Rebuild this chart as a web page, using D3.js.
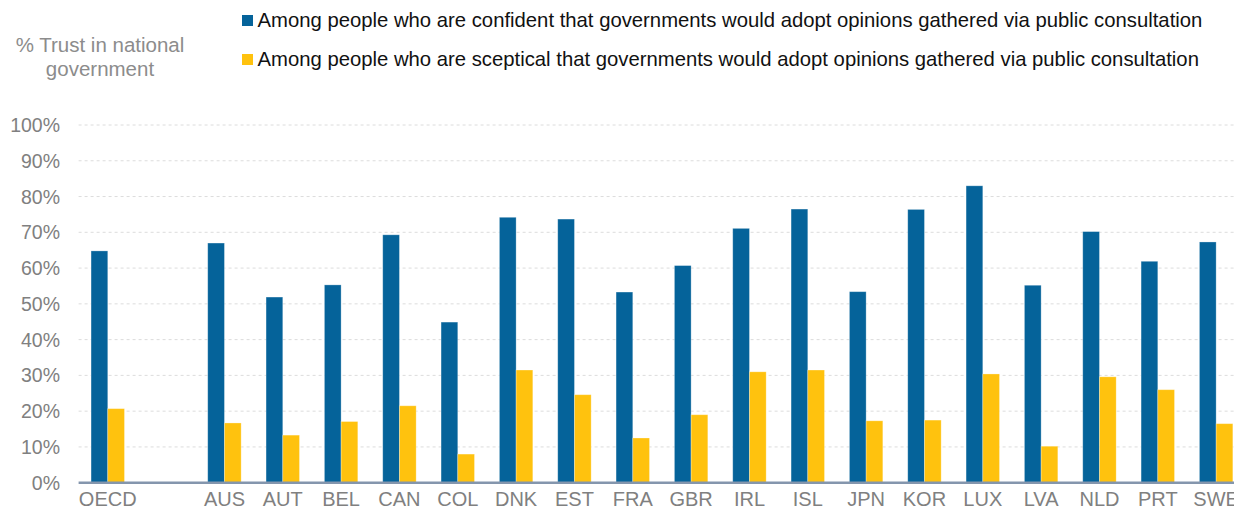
<!DOCTYPE html>
<html>
<head>
<meta charset="utf-8">
<script src="https://cdn.jsdelivr.net/npm/d3@7"></script>
<style>
  body { margin: 0; background: #fff; }
  svg { display: block; font-family: "Liberation Sans", Arial, sans-serif; }
</style>
</head>
<body>
<div id="chart"></div>
<script>
// categories (empty slot between OECD and the countries)
const categories = ["OECD", "", "AUS", "AUT", "BEL", "CAN", "COL", "DNK", "EST", "FRA", "GBR",
    "IRL", "ISL", "JPN", "KOR", "LUX", "LVA", "NLD", "PRT", "SWE"];

const seriesNames = [
    "Among people who are confident that governments would adopt opinions gathered via public consultation",
    "Among people who are sceptical that governments would adopt opinions gathered via public consultation"
];

const confident = [64.8, null, 67.0, 51.9, 55.3, 69.3, 44.9, 74.2, 73.7, 53.3, 60.7,
    71.1, 76.5, 53.4, 76.4, 83.0, 55.2, 70.2, 61.9, 67.3];
const sceptical = [20.7, null, 16.7, 13.3, 17.1, 21.5, 8.0, 31.5, 24.6, 12.5, 19.0,
    31.0, 31.5, 17.3, 17.5, 30.4, 10.2, 29.6, 26.0, 16.5];

const yTicks = [0, 10, 20, 30, 40, 50, 60, 70, 80, 90, 100];
const colors = ["#05639a", "#ffc20e"];

const width = 1234, height = 506;
const margin = { top: 125, left: 78.6, bottom: 23.3 };
const plotRight = 1245.3;
const innerHeight = height - margin.top - margin.bottom;

const svg = d3.select("#chart").append("svg")
    .attr("width", width)
    .attr("height", height);

const x0 = d3.scaleBand()
    .domain(categories.map((d, i) => i))
    .range([margin.left, plotRight])
    .padding(0);

const x1 = d3.scaleBand()
    .domain([0, 1])
    .range([0, x0.bandwidth()])
    .paddingInner(0)
    .paddingOuter(0.746);

const y = d3.scaleLinear()
    .domain([0, 100])
    .range([margin.top + innerHeight, margin.top]);

// gridlines
svg.append("g")
    .selectAll("line")
    .data(yTicks.filter(d => d > 0))
    .join("line")
    .attr("x1", margin.left)
    .attr("x2", width)
    .attr("y1", d => y(d))
    .attr("y2", d => y(d))
    .attr("stroke", "#dcdcdc")
    .attr("stroke-width", 1)
    .attr("stroke-dasharray", "3,3");

// y tick labels
svg.append("g")
    .selectAll("text")
    .data(yTicks)
    .join("text")
    .attr("x", 60)
    .attr("y", d => y(d))
    .attr("dy", "0.36em")
    .attr("text-anchor", "end")
    .attr("fill", "#808080")
    .style("font-size", "19.5px")
    .text(d => d + "%");

// bars
const data = categories.map((c, i) => ({ i, c, vals: [confident[i], sceptical[i]] }));

const groups = svg.append("g")
    .selectAll("g")
    .data(data.filter(d => d.c !== ""))
    .join("g")
    .attr("transform", d => "translate(" + x0(d.i) + ",0)");

groups.selectAll("rect")
    .data(d => d.vals.map((v, k) => ({ v, k })))
    .join("rect")
    .attr("x", d => x1(d.k))
    .attr("width", x1.bandwidth())
    .attr("y", d => y(d.v))
    .attr("height", d => y(0) - y(d.v))
    .attr("fill", d => colors[d.k])
    .attr("stroke", "#ffffff")
    .attr("stroke-opacity", 0.35)
    .attr("stroke-width", 0.8);

// x axis line
svg.append("line")
    .attr("x1", margin.left)
    .attr("x2", width)
    .attr("y1", y(0))
    .attr("y2", y(0))
    .attr("stroke", "#8496ad")
    .attr("stroke-width", 2.5);

// x labels
svg.append("g")
    .selectAll("text")
    .data(data.filter(d => d.c !== ""))
    .join("text")
    .attr("x", d => x0(d.i) + x0.bandwidth() / 2)
    .attr("y", 505.5)
    .attr("text-anchor", "middle")
    .attr("fill", "#808080")
    .style("font-size", "20px")
    .text(d => d.c);

// y axis title
const title = svg.append("text")
    .attr("text-anchor", "middle")
    .attr("fill", "#8c8c8c")
    .style("font-size", "20.5px");
title.append("tspan").attr("x", 100).attr("y", 52).text("% Trust in national");
title.append("tspan").attr("x", 100).attr("y", 76).text("government");

// legend
const legend = svg.append("g")
    .selectAll("g")
    .data(seriesNames)
    .join("g")
    .attr("transform", (d, i) => "translate(242," + (15 + i * 39) + ")");

legend.append("rect")
    .attr("width", 11)
    .attr("height", 11)
    .attr("fill", (d, i) => colors[i]);

legend.append("text")
    .attr("x", 15.5)
    .attr("y", 11.7)
    .attr("fill", "#111")
    .style("font-size", "20.3px")
    .text(d => d);
</script>
</body>
</html>
